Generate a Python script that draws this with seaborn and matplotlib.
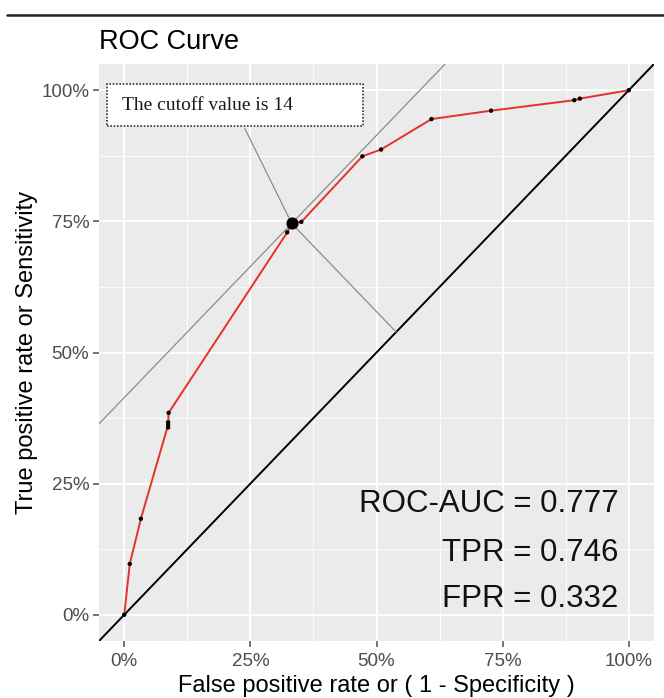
import numpy as np
import pandas as pd
import seaborn as sns
import matplotlib.pyplot as plt
from matplotlib.patches import FancyBboxPatch
from matplotlib.lines import Line2D
from matplotlib.ticker import FuncFormatter, MultipleLocator

# ROC points
fpr = [0.0, 0.011, 0.033, 0.087, 0.087, 0.087, 0.088, 0.323, 0.332, 0.351,
       0.472, 0.509, 0.609, 0.727, 0.892, 0.903, 1.0]
tpr = [0.0, 0.097, 0.183, 0.357, 0.362, 0.367, 0.385, 0.729, 0.746, 0.749,
       0.874, 0.887, 0.945, 0.961, 0.981, 0.984, 1.0]
cut_fpr = 0.332
cut_tpr = 0.746
auc = 0.777
cutoff = 14
label_anchor = (0.239, 0.927)

df = pd.DataFrame({'fpr': fpr, 'tpr': tpr})

sns.set_theme(style="darkgrid", rc={
    'axes.facecolor': '#EBEBEB',
    'grid.color': 'white',
    'axes.edgecolor': 'none',
    'xtick.bottom': True, 'ytick.left': True,
    'xtick.color': '#4D4D4D', 'ytick.color': '#4D4D4D',
    'xtick.major.size': 4, 'ytick.major.size': 4,
    'xtick.major.width': 1.1, 'ytick.major.width': 1.1,
})
plt.rcParams['font.family'] = ['Liberation Sans', 'DejaVu Sans']

fig = plt.figure(figsize=(6.64, 6.98), dpi=100)
ax = fig.add_axes([99 / 664, 1 - 641 / 698, 555 / 664, 577 / 698])
ax.set_xlim(-0.05, 1.05)
ax.set_ylim(-0.05, 1.05)

ax.xaxis.set_major_locator(MultipleLocator(0.25))
ax.yaxis.set_major_locator(MultipleLocator(0.25))
ax.xaxis.set_minor_locator(MultipleLocator(0.125))
ax.yaxis.set_minor_locator(MultipleLocator(0.125))
ax.grid(which='major', color='white', linewidth=1.3)
ax.grid(which='minor', color='white', linewidth=0.6)
ax.tick_params(which='minor', length=0)
pct = FuncFormatter(lambda v, p: f"{v * 100:.0f}%")
ax.xaxis.set_major_formatter(pct)
ax.yaxis.set_major_formatter(pct)
ax.tick_params(axis='x', labelsize=13.5, labelcolor='#4D4D4D', pad=5)
ax.tick_params(axis='y', labelsize=13.5, labelcolor='#4D4D4D', pad=3)

# reference diagonal and tangent line (slope 1 through the cutoff)
ax.axline((0, 0), slope=1, color='black', linewidth=1.4, zorder=2)
ax.axline((cut_fpr, cut_tpr), slope=1, color='#8C8C8C', linewidth=0.9, zorder=2)

# perpendicular from the cutoff to the diagonal, and leader to the label
foot = (cut_fpr + cut_tpr) / 2
ax.plot([cut_fpr, foot], [cut_tpr, foot], color='#8C8C8C', linewidth=0.9, zorder=2)
ax.plot([label_anchor[0], cut_fpr], [label_anchor[1], cut_tpr],
        color='#8C8C8C', linewidth=0.9, zorder=2)

sns.lineplot(data=df, x='fpr', y='tpr', sort=False, color='#E8302A',
             linewidth=1.4, ax=ax, zorder=3)
sns.scatterplot(data=df, x='fpr', y='tpr', color='black', s=10,
                edgecolor='none', ax=ax, zorder=4)
ax.scatter([cut_fpr], [cut_tpr], color='black', s=60, zorder=5)

# label box
box = FancyBboxPatch((-0.034, 0.931), 0.508, 0.080, boxstyle='square,pad=0',
                     facecolor='white', edgecolor='#333333', linewidth=1.2,
                     linestyle=(0, (1, 1)), zorder=6)
ax.add_patch(box)
ax.text(-0.005, 0.971, f"The cutoff value is {cutoff}", family='Liberation Serif',
        fontsize=14, va='center', ha='left', color='#1A1A1A', zorder=7)

ax.text(0.98, 0.212, f"ROC-AUC = {auc}", ha='right', va='center', fontsize=22.5, color='#111111')
ax.text(0.98, 0.118, f"TPR = {cut_tpr}", ha='right', va='center', fontsize=22.5, color='#111111')
ax.text(0.98, 0.031, f"FPR = {cut_fpr}", ha='right', va='center', fontsize=22.5, color='#111111')

ax.set_xlabel("False positive rate or ( 1 - Specificity )", fontsize=17, color='black', labelpad=3)
ax.set_ylabel("True positive rate or Sensitivity", fontsize=17, color='black', labelpad=2)
fig.text(99 / 664, 1 - 42 / 698, "ROC Curve", fontsize=19.5, ha='left', va='center', color='black')

# rule across the top of the figure
fig.add_artist(Line2D([7 / 664, 1.0], [1 - 15 / 698, 1 - 15 / 698], color='#222222', linewidth=1.8))

fig.savefig("out.png", dpi=100)
